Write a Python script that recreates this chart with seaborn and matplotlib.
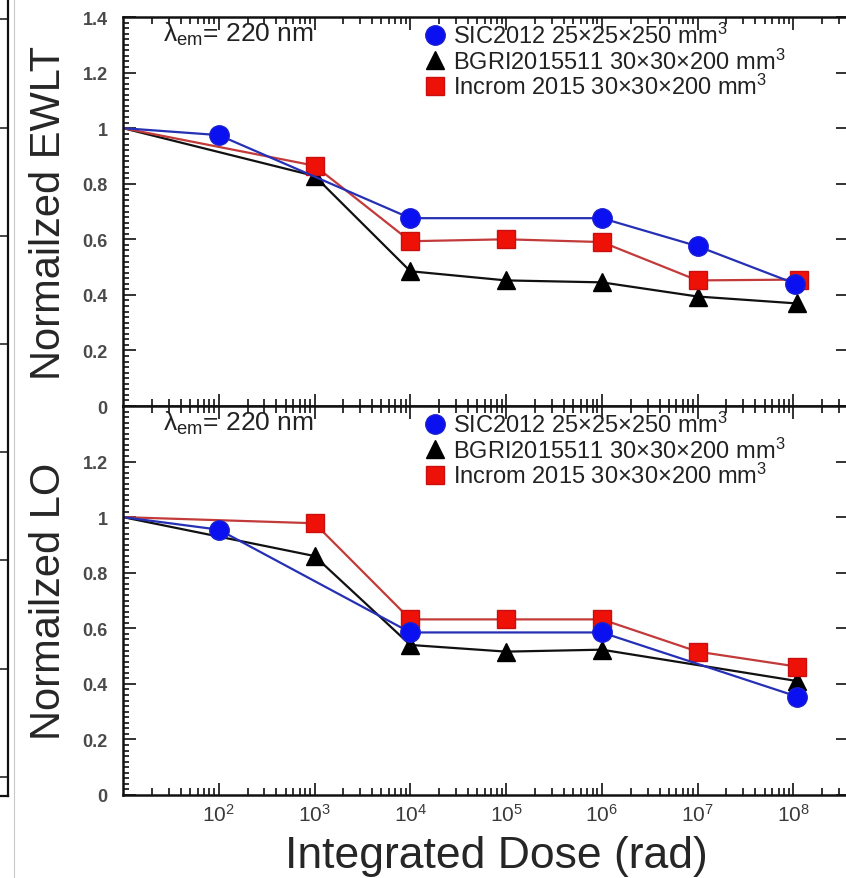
"""Normalized EWLT and LO versus integrated dose for three crystals."""

import matplotlib
matplotlib.use("Agg")
import matplotlib.pyplot as plt
import matplotlib.ticker as mticker
from matplotlib.lines import Line2D
import pandas as pd
import seaborn as sns

# ---- data ----
labels = [
    "SIC2012 25×25×250 mm$^3$",
    "BGRI2015511 30×30×200 mm$^3$",
    "Incrom 2015 30×30×200 mm$^3$",
]

# Normalized EWLT (top panel)
dose_sic_ewlt = [1e1, 1e2, 1e4, 1e6, 1e7, 1.05e8]
sic_ewlt = [1.0, 0.975, 0.676, 0.676, 0.575, 0.44]
dose_bgri_ewlt = [1e1, 1e3, 1e4, 1e5, 1e6, 1e7, 1.1e8]
bgri_ewlt = [1.0, 0.828, 0.485, 0.452, 0.445, 0.394, 0.369]
dose_incrom_ewlt = [1e1, 1e3, 1e4, 1e5, 1e6, 1e7, 1.15e8]
incrom_ewlt = [1.0, 0.865, 0.593, 0.600, 0.590, 0.452, 0.455]

# Normalized LO (bottom panel)
dose_sic_lo = [1e1, 1e2, 1e4, 1e6, 1.1e8]
sic_lo = [1.0, 0.955, 0.585, 0.585, 0.354]
dose_bgri_lo = [1e1, 1e3, 1e4, 1e5, 1e6, 1.1e8]
bgri_lo = [1.0, 0.86, 0.54, 0.516, 0.523, 0.41]
dose_incrom_lo = [1e1, 1e3, 1e4, 1e5, 1e6, 1e7, 1.1e8]
incrom_lo = [1.0, 0.978, 0.632, 0.632, 0.632, 0.516, 0.462]

x_ticks = [1e2, 1e3, 1e4, 1e5, 1e6, 1e7, 1e8]
y_ticks = [0, 0.2, 0.4, 0.6, 0.8, 1.0, 1.2, 1.4]

# ---- style ----
sns.set_theme(style="ticks")
plt.rcParams["font.family"] = ["Liberation Sans", "DejaVu Sans"]
plt.rcParams["mathtext.fontset"] = "custom"
plt.rcParams["mathtext.rm"] = "Liberation Sans"
plt.rcParams["mathtext.it"] = "Liberation Sans:italic"
plt.rcParams["mathtext.bf"] = "Liberation Sans:bold"

# marker style per series: (marker, face, edge, line colour, size)
styles = [
    ("o", "#0a10f0", "#1a20d0", "#2530b5", 14),
    ("^", "#000000", "#000000", "#111111", 13),
    ("s", "#ee1108", "#c81010", "#c23a3a", 13),
]

W, H = 846, 879
fig = plt.figure(figsize=(W / 100, H / 100), dpi=100)

# axes placed in pixel units; the right spine runs just past the image edge
left_px, right_px = 123, 848
ax_top = fig.add_axes([left_px / W, 1 - 407 / H, (right_px - left_px) / W, 389 / H])
ax_bot = fig.add_axes([left_px / W, 1 - 796 / H, (right_px - left_px) / W, 389 / H],
                      sharex=ax_top)

panels = [
    (ax_top, [(dose_sic_ewlt, sic_ewlt), (dose_bgri_ewlt, bgri_ewlt),
              (dose_incrom_ewlt, incrom_ewlt)], "Normailzed EWLT"),
    (ax_bot, [(dose_sic_lo, sic_lo), (dose_bgri_lo, bgri_lo),
              (dose_incrom_lo, incrom_lo)], "Normailzed LO"),
]

draw_order = [1, 2, 0]  # triangles first, circles on top

for ax, series, ylabel in panels:
    for i in draw_order:
        dose, vals = series[i]
        marker, face, edge, lcol, ms = styles[i]
        df = pd.DataFrame({"dose": dose, "value": vals})
        sns.lineplot(
            data=df, x="dose", y="value", ax=ax, color=lcol, lw=1.6,
            estimator=None, sort=False, marker=marker, markersize=ms,
            markerfacecolor=face, markeredgecolor=edge, markeredgewidth=1.0,
            markevery=list(range(1, len(dose))), clip_on=True,
        )

    ax.set_xscale("log")
    ax.set_xlim(1e1, 10 ** 8.57)
    ax.set_ylim(0, 1.4)
    ax.set_xticks(x_ticks)
    ax.xaxis.set_minor_locator(mticker.LogLocator(base=10, subs=range(2, 10), numticks=20))
    ax.set_yticks(y_ticks)
    ax.yaxis.set_minor_locator(mticker.MultipleLocator(0.02))
    ax.yaxis.set_major_formatter(mticker.FuncFormatter(lambda v, p: f"{v:g}"))

    ax.tick_params(axis="both", which="both", direction="in", top=True, right=True,
                   colors="#111111", width=1.2)
    ax.tick_params(axis="both", which="major", length=9)
    ax.tick_params(axis="both", which="minor", length=5)
    ax.tick_params(axis="y", which="minor", right=False, length=4)
    ax.tick_params(axis="y", which="major", labelsize=13, labelcolor="#4a4a4a", pad=11)
    ax.tick_params(axis="x", which="major", labelsize=15, labelcolor="#3a3a3a", pad=6)
    for lab in ax.get_yticklabels():
        lab.set_fontweight("bold")
    for sp in ax.spines.values():
        sp.set_linewidth(1.8)
        sp.set_color("#111111")

    ax.set_xlabel("")
    ax.set_ylabel(ylabel, fontsize=30, labelpad=10)

    ax.text(0.055, 0.957, "λ$_{\\rm em}$= 220 nm", transform=ax.transAxes,
            fontsize=19, color="#222222", va="center", ha="left")

    handles = [
        Line2D([], [], ls="none", marker=m, markersize=ms, markerfacecolor=f,
               markeredgecolor=e)
        for m, f, e, _, ms in styles
    ]
    ax.legend(handles, labels, loc="upper left", bbox_to_anchor=(0.415, 0.985),
              frameon=False, fontsize=17, handlelength=0.9, handletextpad=0.35,
              labelspacing=0.02, borderaxespad=0, borderpad=0,
              labelcolor="#222222")

plt.setp(ax_top.get_xticklabels(), visible=False)
ax_bot.set_yticks(y_ticks[:-1])
for lab in ax_bot.get_yticklabels():
    lab.set_fontweight("bold")
ax_bot.set_xlabel("Integrated Dose (rad)", fontsize=32)
ax_bot.xaxis.label.set_va("baseline")
ax_bot.xaxis.set_label_coords(0.515, -(868 - 796) / 389)

# fragment of the neighbouring chart at the far left
ax_frag = fig.add_axes([-0.2, 1 - 797 / H, 0.2 + 7.5 / W, 797 / H + 0.01])
ax_frag.set_xlim(0, 1)
ax_frag.set_ylim(-0.178, 7.27)
ax_frag.set_yticks(range(0, 8))
ax_frag.set_xticks([])
ax_frag.tick_params(axis="y", left=False, right=True, labelleft=False,
                    direction="in", length=6, width=1.2)
for sp in ax_frag.spines.values():
    sp.set_linewidth(1.6)
    sp.set_color("#111111")
fig.add_artist(Line2D([14 / W, 14 / W], [0, 1], color="#c8c8c8", lw=0.8))

fig.savefig("out.png", dpi=100, facecolor="white")
plt.close(fig)
